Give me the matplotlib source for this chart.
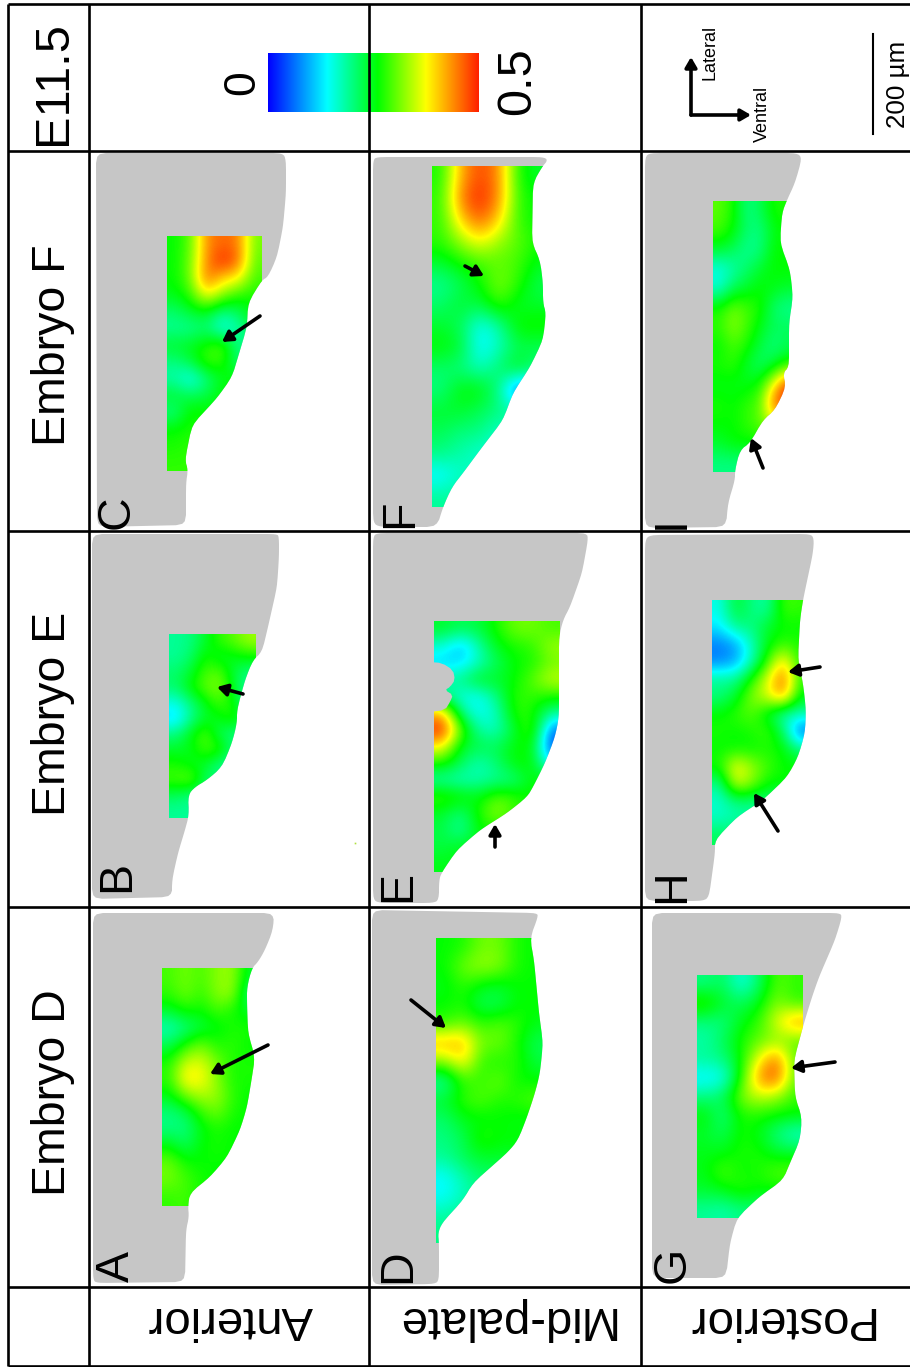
import numpy as np
import matplotlib
matplotlib.use("Agg")
import matplotlib.pyplot as plt
from matplotlib.colors import LinearSegmentedColormap
from matplotlib.patches import Polygon

plt.rcParams["font.family"] = ["Liberation Sans", "DejaVu Sans"]

GRAY = "#c6c6c6"

# strain values, rows top to bottom, columns left to right
VALUES_A = [
    [.29, .31, .29, .32, .33, .24],
    [.28, .31, .28, .32, .33, .20],
    [.24, .27, .26, .29, .27, .24],
    [.17, .20, .23, .25, .27, .27],
    [.22, .27, .31, .27, .28, .26],
    [.27, .35, .36, .31, .27, .27],
    [.28, .39, .38, .32, .27, .27],
    [.25, .31, .34, .33, .28, .26],
    [.20, .22, .28, .31, .27, .26],
    [.20, .20, .25, .27, .26, .26],
    [.26, .22, .26, .27, .26, .26],
    [.31, .27, .26, .26, .26, .26],
    [.31, .29, .27, .26, .26, .26],
    [.28, .29, .26, .26, .26, .26],
]
VALUES_B = [
    [.19, .20, .24, .28, .30, .33],
    [.19, .21, .27, .24, .25, .26],
    [.21, .24, .29, .30, .23, .20],
    [.21, .26, .30, .32, .24, .18],
    [.15, .20, .25, .29, .26, .18],
    [.12, .19, .24, .25, .28, .20],
    [.20, .25, .30, .22, .20, .20],
    [.24, .25, .29, .28, .20, .20],
    [.27, .25, .24, .20, .18, .18],
    [.29, .31, .22, .20, .20, .20],
    [.22, .20, .20, .20, .20, .20],
    [.19, .19, .19, .19, .19, .19],
]
VALUES_C = [
    [.26, .30, .44, .46, .45, .31],
    [.26, .31, .44, .50, .46, .30],
    [.26, .31, .46, .40, .38, .29],
    [.25, .28, .38, .32, .28, .27],
    [.21, .24, .25, .20, .22, .26],
    [.19, .19, .21, .14, .18, .24],
    [.24, .25, .27, .30, .19, .20],
    [.20, .23, .29, .28, .20, .22],
    [.18, .14, .20, .25, .26, .26],
    [.24, .22, .23, .26, .26, .26],
    [.20, .27, .26, .26, .26, .26],
    [.26, .27, .26, .26, .26, .26],
    [.27, .28, .27, .26, .26, .26],
    [.28, .28, .28, .26, .26, .26],
]
VALUES_D = [
    [.26, .27, .31, .31, .27, .26],
    [.26, .31, .33, .32, .27, .26],
    [.25, .28, .25, .24, .26, .26],
    [.26, .27, .22, .22, .26, .26],
    [.28, .31, .28, .30, .28, .25],
    [.42, .42, .31, .31, .27, .22],
    [.32, .39, .28, .27, .28, .23],
    [.18, .28, .28, .31, .26, .26],
    [.24, .28, .30, .27, .28, .30],
    [.21, .25, .25, .26, .25, .25],
    [.20, .22, .28, .26, .26, .26],
    [.19, .22, .24, .24, .24, .24],
    [.14, .18, .21, .21, .21, .21],
    [.14, .17, .20, .20, .20, .20],
    [.18, .20, .20, .20, .20, .20],
    [.20, .20, .20, .20, .20, .20],
]
VALUES_E = [
    [.24, .22, .23, .27, .31, .31, .29],
    [.16, .10, .18, .25, .27, .28, .33],
    [.12, .12, .17, .22, .26, .27, .31],
    [.18, .20, .25, .24, .26, .30, .35],
    [.20, .15, .14, .20, .28, .28, .27],
    [.42, .20, .14, .17, .28, .27, .19],
    [.50, .30, .18, .17, .24, .30, .06],
    [.38, .24, .23, .22, .26, .26, .03],
    [.27, .22, .17, .21, .26, .26, .12],
    [.18, .17, .18, .19, .20, .26, .26],
    [.29, .27, .25, .30, .28, .26, .26],
    [.24, .20, .27, .33, .28, .26, .26],
    [.23, .18, .26, .26, .26, .26, .26],
    [.23, .25, .25, .25, .25, .25, .25],
    [.25, .25, .25, .25, .25, .25, .25],
]
VALUES_F = [
    [.27, .42, .48, .44, .27, .24],
    [.28, .45, .50, .44, .28, .26],
    [.28, .40, .47, .40, .28, .26],
    [.28, .33, .38, .33, .30, .27],
    [.24, .27, .29, .30, .29, .25],
    [.19, .22, .26, .32, .28, .22],
    [.21, .24, .23, .29, .24, .24],
    [.24, .22, .14, .18, .27, .27],
    [.26, .24, .13, .17, .22, .22],
    [.21, .20, .17, .21, .26, .20],
    [.20, .26, .26, .20, .02, .10],
    [.24, .24, .22, .20, .20, .20],
    [.22, .20, .20, .16, .16, .16],
    [.20, .18, .16, .16, .16, .16],
    [.13, .17, .17, .17, .17, .17],
    [.19, .19, .19, .19, .19, .19],
]
VALUES_G = [
    [.20, .22, .15, .21, .30, .28],
    [.29, .24, .22, .25, .32, .28],
    [.20, .20, .25, .28, .36, .44],
    [.18, .22, .27, .30, .32, .30],
    [.19, .20, .26, .37, .46, .30],
    [.13, .14, .27, .44, .48, .30],
    [.20, .22, .32, .35, .33, .28],
    [.26, .20, .27, .27, .26, .26],
    [.24, .22, .27, .25, .20, .16],
    [.25, .25, .27, .27, .24, .24],
    [.25, .30, .26, .27, .30, .30],
    [.24, .25, .28, .26, .26, .26],
    [.19, .18, .20, .20, .20, .20],
]
VALUES_H = [
    [.15, .24, .20, .18, .29, .28],
    [.13, .20, .20, .24, .26, .26],
    [.07, .09, .17, .25, .28, .27],
    [.07, .09, .17, .28, .40, .27],
    [.19, .19, .27, .36, .47, .28],
    [.20, .24, .32, .36, .44, .25],
    [.26, .28, .30, .24, .17, .18],
    [.27, .26, .27, .29, .22, .05],
    [.26, .26, .26, .27, .26, .20],
    [.27, .38, .33, .29, .26, .26],
    [.19, .36, .32, .26, .26, .26],
    [.16, .20, .20, .20, .20, .20],
    [.17, .18, .18, .18, .18, .18],
    [.22, .22, .22, .22, .22, .22],
]
VALUES_I = [
    [.30, .27, .20, .22, .27, .27],
    [.29, .26, .21, .20, .25, .26],
    [.24, .22, .19, .20, .26, .26],
    [.15, .18, .21, .24, .26, .26],
    [.16, .22, .24, .26, .25, .24],
    [.27, .31, .29, .27, .21, .19],
    [.28, .32, .29, .25, .22, .22],
    [.26, .29, .27, .23, .20, .22],
    [.27, .28, .24, .21, .24, .28],
    [.25, .25, .25, .27, .38, .50],
    [.27, .26, .28, .30, .46, .50],
    [.26, .26, .28, .30, .34, .34],
    [.24, .26, .26, .26, .26, .26],
    [.20, .20, .20, .20, .20, .20],
]

# tissue outlines in picture pixels
OUTLINE_A = [(93, 913), (274, 913), (273, 930), (265, 950), (258, 962), (252, 968), (247, 987), (247, 1003),
             (248, 1033), (255, 1057), (252, 1077), (247, 1107), (240, 1130), (227, 1157), (210, 1177),
             (190, 1193), (188, 1206), (189, 1217), (186, 1230), (185, 1282), (97, 1283), (93, 1280)]
OUTLINE_B = [(92, 534), (277, 534), (279, 537), (279, 557), (277, 587), (268, 627), (262, 652), (253, 660),
             (245, 680), (237, 710), (237, 723), (232, 743), (222, 767), (207, 780), (195, 787), (188, 795),
             (189, 815), (185, 830), (178, 853), (172, 880), (172, 897), (92, 899)]
OUTLINE_C = [(96, 153), (283, 153), (286, 160), (286, 193), (283, 227), (277, 257), (268, 277), (262, 280),
             (248, 303), (247, 327), (238, 357), (232, 377), (217, 398), (192, 425), (185, 460), (188, 470),
             (186, 483), (186, 525), (97, 527)]
OUTLINE_D = [(372, 910), (537, 913), (538, 917), (530, 938), (534, 960), (539, 1013), (543, 1043), (540, 1073),
             (535, 1093), (527, 1117), (518, 1140), (508, 1152), (473, 1183), (463, 1200), (442, 1223),
             (438, 1233), (439, 1243), (439, 1280), (435, 1284), (372, 1285)]
OUTLINE_E = [(373, 537), (377, 533), (587, 533), (588, 540), (582, 573), (570, 607), (563, 620), (559, 637),
             (559, 717), (555, 737), (545, 763), (533, 787), (527, 797), (507, 813), (480, 830), (457, 850),
             (442, 872), (439, 880), (439, 900), (433, 903), (380, 903), (373, 900)]
NOTCH_E = [(430, 662), (442, 663), (453, 670), (455, 680), (450, 687), (445, 690), (453, 695), (450, 702),
           (445, 710), (430, 712)]
OUTLINE_F = [(373, 160), (377, 157), (543, 157), (548, 160), (542, 167), (533, 183), (532, 243), (540, 260),
             (543, 283), (543, 303), (546, 313), (543, 340), (530, 367), (513, 393), (503, 420), (480, 450),
             (463, 473), (452, 487), (443, 507), (437, 527), (380, 527), (373, 523)]
OUTLINE_G = [(652, 913), (840, 913), (842, 917), (835, 940), (819, 977), (812, 997), (804, 1023), (794, 1060),
             (795, 1097), (802, 1117), (800, 1140), (790, 1163), (783, 1180), (759, 1197), (737, 1218),
             (730, 1243), (726, 1278), (652, 1278)]
OUTLINE_H = [(645, 540), (650, 535), (810, 534), (814, 538), (813, 553), (803, 600), (800, 620), (798, 660),
             (803, 683), (806, 710), (805, 733), (798, 757), (787, 777), (763, 800), (737, 817), (715, 840),
             (715, 853), (709, 897), (703, 901), (645, 901)]
OUTLINE_I = [(645, 157), (650, 153), (797, 153), (802, 158), (795, 183), (787, 200), (782, 213), (780, 243),
             (790, 270), (793, 297), (789, 323), (789, 367), (783, 373), (786, 387), (775, 410), (763, 420),
             (750, 443), (740, 450), (735, 470), (735, 480), (728, 503), (726, 527), (645, 528)]

EMBRYOS = ["Embryo D", "Embryo E", "Embryo F"]
SECTIONS = ["Anterior", "Mid-palate", "Posterior"]


def smooth(outline, passes=2, cut=5.0):
    # corner cutting, at most cut px from a corner so long edges stay straight
    pts = np.array(outline, dtype=float)
    for _ in range(passes):
        nxt = np.roll(pts, -1, axis=0)
        lengths = np.hypot(*(nxt - pts).T)
        t = np.minimum(0.25, cut / lengths)[:, None]
        pts = np.column_stack([pts + t * (nxt - pts), nxt - t * (nxt - pts)]).reshape(-1, 2)
    return pts


def draw_panel(ax, outline, values, box, letter, letter_pos, cmap):
    tissue = Polygon(smooth(outline), closed=True, facecolor=GRAY, edgecolor="none", zorder=2)
    ax.add_patch(tissue)
    x0, x1, y0, y1 = box
    im = ax.imshow(np.array(values), extent=(x0, x1, y1, y0), cmap=cmap, vmin=0, vmax=0.5,
                   interpolation="bicubic", aspect="auto", zorder=3)
    im.set_clip_path(tissue)
    ax.text(letter_pos[0], letter_pos[1], letter, fontsize=33.5, rotation=90, rotation_mode="anchor",
            ha="center", va="baseline", color="black", zorder=6)


def arrow(ax, tail, head):
    ax.annotate("", xy=head, xytext=tail, zorder=7,
                arrowprops=dict(arrowstyle="-|>,head_width=0.35,head_length=0.6", color="black",
                                lw=2.6, shrinkA=0, shrinkB=0))


def main():
    cmap = LinearSegmentedColormap.from_list(
        "strain", [(0, "#0000ff"), (0.28, "#00ffff"), (0.52, "#00ff00"), (0.75, "#ffff00"), (1, "#ff2000")])

    fig = plt.figure(figsize=(9.1, 13.67), dpi=100)
    ax = fig.add_axes([0, 0, 1, 1])
    ax.axis("off")

    draw_panel(ax, OUTLINE_A, VALUES_A, (162, 256, 968, 1206), "A", (129, 1267), cmap)
    draw_panel(ax, OUTLINE_B, VALUES_B, (169, 256, 634, 818), "B", (129, 876), cmap)
    draw_panel(ax, OUTLINE_C, VALUES_C, (167, 262, 236, 471), "C", (129, 512), cmap)
    draw_panel(ax, OUTLINE_D, VALUES_D, (436, 544, 938, 1243), "D", (410, 1266), cmap)
    draw_panel(ax, OUTLINE_E, VALUES_E, (434, 560, 621, 872), "E", (410, 886), cmap)
    ax.add_patch(Polygon(smooth(NOTCH_E, 1), closed=True, facecolor=GRAY, edgecolor="none", zorder=4))
    draw_panel(ax, OUTLINE_F, VALUES_F, (432, 547, 166, 507), "F", (412, 514), cmap)
    draw_panel(ax, OUTLINE_G, VALUES_G, (697, 803, 975, 1218), "G", (685, 1265), cmap)
    draw_panel(ax, OUTLINE_H, VALUES_H, (712, 807, 600, 845), "H", (684, 886), cmap)
    draw_panel(ax, OUTLINE_I, VALUES_I, (713, 794, 201, 472), "I", (684, 523), cmap)

    # stray speck under panel B
    ax.plot([355], [843], marker="s", ms=1.2, color="#b0e040", mec="none", zorder=3)

    # arrows
    arrow(ax, (268, 1045), (210, 1074))
    arrow(ax, (243, 694), (217, 687))
    arrow(ax, (260, 316), (222, 342))
    arrow(ax, (411, 1000), (446, 1028))
    arrow(ax, (495, 847), (495, 824))
    arrow(ax, (465, 266), (484, 276))
    arrow(ax, (835, 1062), (791, 1068))
    arrow(ax, (820, 667), (788, 672))
    arrow(ax, (778, 831), (754, 793))
    arrow(ax, (763, 468), (751, 438))

    # table lines
    for x in [8, 89, 369, 641]:
        ax.plot([x, x], [4, 1366], color="black", lw=1.9, zorder=5, solid_capstyle="butt")
    for y in [4, 151, 531, 907, 1287, 1366]:
        ax.plot([8, 910], [y, y], color="black", lw=1.9, zorder=5, solid_capstyle="butt")

    # row and column labels
    for label, yc in zip(EMBRYOS, [1093, 714, 345]):
        ax.text(65, yc, label, fontsize=33.5, rotation=90, rotation_mode="anchor", ha="center", va="baseline")
    for label, xc in zip(SECTIONS, [230, 504, 779]):
        ax.text(xc, 1307, label, fontsize=34, rotation=180, rotation_mode="anchor", ha="center", va="baseline")
    ax.text(66, 83, "E11.5", fontsize=35, rotation=90, rotation_mode="anchor", ha="center", va="baseline")

    # colour scale
    scale = np.linspace(0, 0.5, 256).reshape(1, -1)
    ax.imshow(scale, extent=(268, 479, 112, 53), cmap=cmap, vmin=0, vmax=0.5, aspect="auto", zorder=3)
    ax.text(254, 83, "0", fontsize=32, rotation=90, rotation_mode="anchor", ha="center", va="baseline")
    ax.text(530, 81, "0.5", fontsize=35, rotation=90, rotation_mode="anchor", ha="center", va="baseline")

    # orientation
    arrow(ax, (691, 115), (691, 57))
    arrow(ax, (691, 115), (751, 115))
    ax.text(715, 52, "Lateral", fontsize=13, rotation=90, rotation_mode="anchor", ha="center", va="baseline")
    ax.text(767, 114, "Ventral", fontsize=13, rotation=90, rotation_mode="anchor", ha="center", va="baseline")

    # scale bar
    ax.plot([873, 873], [34, 134], color="black", lw=1.5, zorder=5)
    ax.text(905, 84, "200 µm", fontsize=18.7, rotation=90, rotation_mode="anchor", ha="center", va="baseline")

    ax.set_xlim(0, 910)
    ax.set_ylim(1367, 0)
    fig.savefig("out.png", dpi=100)


if __name__ == "__main__":
    main()
